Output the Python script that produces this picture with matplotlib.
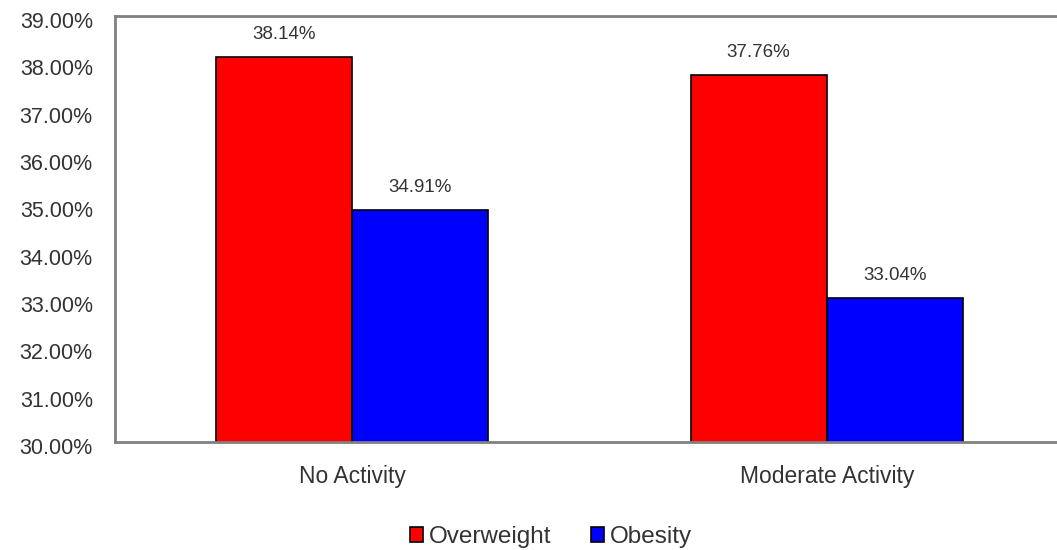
import numpy as np
import matplotlib
matplotlib.use("Agg")
import matplotlib.pyplot as plt
from matplotlib.ticker import FuncFormatter
from matplotlib.transforms import ScaledTranslation

plt.rcParams['font.family'] = ['Liberation Sans', 'DejaVu Sans']

categories = ['No Activity', 'Moderate Activity']
series = ['Overweight', 'Obesity']
overweight = [38.14, 37.76]
obesity = [34.91, 33.04]
colors = ['#ff0000', '#0000ff']
y_ticks = [30, 31, 32, 33, 34, 35, 36, 37, 38, 39]

text_col = '#333333'
spine_col = '#808080'

fig = plt.figure(figsize=(10.57, 5.5), dpi=100)
ax = fig.add_axes([115 / 1057, 108 / 550, 949 / 1057, 426 / 550])

x = np.arange(len(categories))
w = 0.287
for i, (vals, name) in enumerate(zip([overweight, obesity], series)):
    pos = x + (i - 0.5) * w
    bars = ax.bar(pos, vals, width=w, bottom=0, color=colors[i], edgecolor='black',
                  linewidth=1.2, label=name, zorder=2)
    for b, v in zip(bars, vals):
        ax.annotate('{:.2f}%'.format(v), (b.get_x() + b.get_width() / 2, v),
                    xytext=(0, 16), textcoords='offset points', ha='center', va='center',
                    fontsize=13.5, color=text_col)

ax.set_ylim(30, 39)
ax.set_xlim(-0.5, 1.5)
ax.set_yticks(y_ticks)
ax.yaxis.set_major_formatter(FuncFormatter(lambda v, p: '{:.2f}%'.format(v)))
ax.set_xticks(x)
ax.set_xticklabels(categories)
ax.tick_params(axis='y', length=0, pad=16, labelsize=15.5, labelcolor=text_col)
ax.tick_params(axis='x', length=0, pad=16.5, labelsize=16.5, labelcolor=text_col)
# labels sit a little below their gridline in the reference
shift = ScaledTranslation(0, -4 / 100, fig.dpi_scale_trans)
for lab in ax.get_yticklabels():
    lab.set_transform(lab.get_transform() + shift)

for s in ['left', 'bottom', 'top']:
    ax.spines[s].set_color(spine_col)
    ax.spines[s].set_linewidth(2)
ax.spines['right'].set_visible(False)

leg = fig.legend(loc='center', bbox_to_anchor=(551 / 1057, 1 - 537 / 550), ncol=2,
                 frameon=False, fontsize=17.5, handlelength=0.55, handleheight=0.55,
                 handletextpad=0.25, columnspacing=1.6, labelcolor=text_col)

fig.savefig('out.png', dpi=100)
